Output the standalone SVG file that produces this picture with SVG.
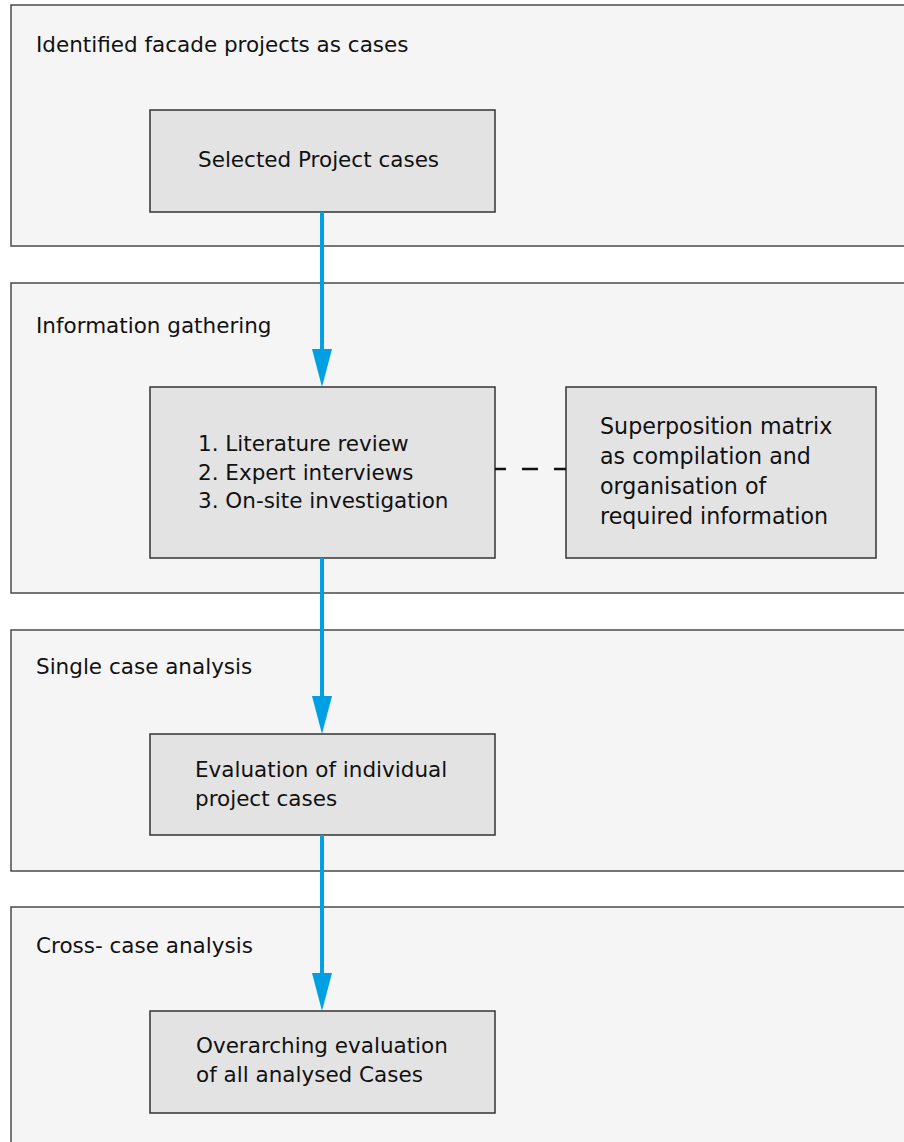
<svg xmlns="http://www.w3.org/2000/svg" width="904" height="1142" viewBox="0 0 904 1142">
<defs>
<style>
.outer{fill:#f5f5f5;stroke:#4a4a4a;stroke-width:1.5}
.inner{fill:#e3e3e3;stroke:#333;stroke-width:1.5}
text{font-family:"DejaVu Sans",sans-serif;font-size:21.5px;fill:#111}
.big{font-size:22.2px}
.flow{stroke:#00a0e3;stroke-width:4;fill:none}
.dash{stroke:#111;stroke-width:2.5;stroke-dasharray:16 16;stroke-dashoffset:5}
</style>
<marker id="ah" markerUnits="userSpaceOnUse" markerWidth="38" markerHeight="20" refX="0" refY="10" orient="auto" viewBox="0 0 38 20">
<path d="M0,0 L38,10 L0,20 Z" fill="#00a0e3"/>
</marker>
</defs>
<g id="stage1"><rect class="outer" x="11" y="5" width="900" height="241"/><text x="36" y="52">Identified facade projects as cases</text></g>
<g id="stage2"><rect class="outer" x="11" y="283" width="900" height="310"/><text x="36" y="333">Information gathering</text></g>
<g id="stage3"><rect class="outer" x="11" y="630" width="900" height="241"/><text x="36" y="674">Single case analysis</text></g>
<g id="stage4"><rect class="outer" x="11" y="907" width="900" height="250"/><text x="36" y="953">Cross- case analysis</text></g>
<g id="selected"><rect class="inner" x="150" y="110" width="345" height="102"/><text x="198" y="167">Selected Project cases</text></g>
<g id="methods"><rect class="inner" x="150" y="387" width="345" height="171"/><text x="198" y="451">1. Literature review</text><text x="198" y="479.5">2. Expert interviews</text><text x="198" y="508">3. On-site investigation</text></g>
<g id="matrix"><rect class="inner" x="566" y="387" width="310" height="171"/><text class="big" x="600" y="434">Superposition matrix</text><text class="big" x="600" y="464">as compilation and</text><text class="big" x="600" y="494">organisation of</text><text class="big" x="600" y="524">required information</text></g>
<g id="evaluation"><rect class="inner" x="150" y="734" width="345" height="101"/><text x="195" y="777">Evaluation of individual</text><text x="195" y="806">project cases</text></g>
<g id="overarching"><rect class="inner" x="150" y="1011" width="345" height="102"/><text x="196" y="1053">Overarching evaluation</text><text x="196" y="1082">of all analysed Cases</text></g>
<g id="connectors">
<line class="flow" x1="322" y1="212" x2="322" y2="349" marker-end="url(#ah)"/>
<line class="flow" x1="322" y1="558" x2="322" y2="696" marker-end="url(#ah)"/>
<line class="flow" x1="322" y1="835" x2="322" y2="973" marker-end="url(#ah)"/>
<line class="dash" x1="495" y1="469" x2="566" y2="469"/>
</g>
</svg>
